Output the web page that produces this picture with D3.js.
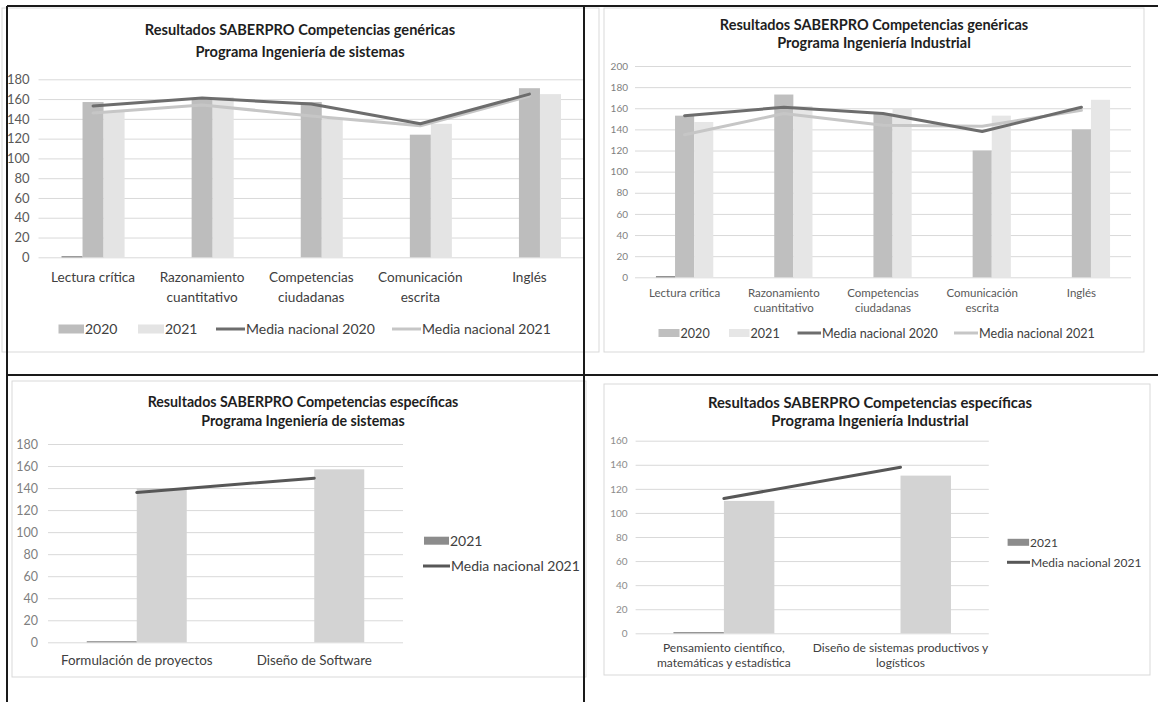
<!DOCTYPE html>
<html lang="es">
<head>
<meta charset="UTF-8">
<script src="https://d3js.org/d3.v7.min.js"></script>
<style>
  body { margin: 0; background: #fff; }
  svg { display: block; font-family: Lato, "Open Sans", sans-serif; }
</style>
</head>
<body>
<svg class="chart"></svg>
<script>

// ---- data ----
const catGen = ["Lectura crítica", "Razonamiento\ncuantitativo", "Competencias\nciudadanas", "Comunicación\nescrita", "Inglés"];
const ticksGenSis = [0, 20, 40, 60, 80, 100, 120, 140, 160, 180];
const ticksGenInd = [0, 20, 40, 60, 80, 100, 120, 140, 160, 180, 200];

const sisBase = [1, 0, 0, 0, 0];
const sis2020 = [157, 160, 157, 124, 171];
const sis2021 = [147, 162, 139, 135, 165];
const sisMedia2020 = [153, 161, 155, 135, 165];
const sisMedia2021 = [146, 154, 143, 133, 163];

const indBase = [1, 0, 0, 0, 0];
const ind2020 = [153, 173, 155, 120, 140];
const ind2021 = [147, 162, 160, 153, 168];
const indMedia2020 = [153, 161, 155, 138, 161];
const indMedia2021 = [135, 155, 144, 143, 158];

const catEspSis = ["Formulación de proyectos", "Diseño de Software"];
const ticksEspSis = [0, 20, 40, 60, 80, 100, 120, 140, 160, 180];
const espSis2021 = [1, 0];
const espSisBar = [140, 157];
const espSisMedia2021 = [136, 149];

const catEspInd = ["Pensamiento científico,\nmatemáticas y estadística", "Diseño de sistemas productivos y\nlogísticos"];
const ticksEspInd = [0, 20, 40, 60, 80, 100, 120, 140, 160];
const espInd2021 = [1, 0];
const espIndBar = [110, 131];
const espIndMedia2021 = [112, 138];

const titleGenSis = ["Resultados SABERPRO Competencias genéricas", "Programa Ingeniería de sistemas"];
const titleGenInd = ["Resultados SABERPRO Competencias genéricas", "Programa  Ingeniería Industrial"];
const titleEspSis = ["Resultados SABERPRO Competencias específicas", "Programa Ingeniería de sistemas"];
const titleEspInd = ["Resultados SABERPRO Competencias específicas", "Programa Ingeniería Industrial"];

const legendGen = ["2020", "2021", "Media nacional 2020", "Media nacional 2021"];
const legendEsp = ["2021", "Media nacional 2021"];

// ---- drawing ----
let svg = d3.select(".chart")
    .attr("width", 1158)
    .attr("height", 702);

function drawChart(c) {
  let g = svg.append("g");

  g.append("rect")
      .attr("x", c.frame[0]).attr("y", c.frame[1])
      .attr("width", c.frame[2]).attr("height", c.frame[3])
      .attr("fill", "#fff").attr("stroke", "#d9d9d9");

  c.title.forEach((t, i) => {
    g.append("text")
        .attr("x", c.titleX).attr("y", c.titleY + i * c.titleLH)
        .attr("text-anchor", "middle")
        .style("font-weight", "bold").style("font-size", c.titleSize + "px")
        .attr("fill", "#1e1e1e")
        .text(t);
  });

  let x = d3.scaleBand().domain(c.cats).range([c.left, c.right]);
  let slot = d3.scaleBand().domain(c.bars.map(b => b.key))
      .range([0, x.bandwidth()]).paddingOuter(c.gap / 2);
  let y = d3.scaleLinear().domain([0, c.ticks[c.ticks.length - 1]]).range([c.bottom, c.top]);

  // gridlines and tick labels
  let yAxis = g.append("g")
      .attr("transform", `translate(${c.left},0)`)
      .call(d3.axisLeft(y).tickValues(c.ticks).tickSize(-(c.right - c.left)).tickPadding(c.tickPad));
  yAxis.attr("font-family", null).attr("font-size", null);
  yAxis.select(".domain").remove();
  yAxis.selectAll("line").attr("stroke", "#d9d9d9");
  yAxis.selectAll("text").attr("fill", c.tickColor).style("font-size", c.tickSize + "px");

  // bars
  c.bars.forEach(b => {
    g.append("g").selectAll("rect")
      .data(b.values)
      .join("rect")
        .attr("x", (d, i) => x(c.cats[i]) + slot(b.key))
        .attr("y", d => y(d))
        .attr("width", slot.bandwidth())
        .attr("height", d => y(0) - y(d))
        .attr("fill", b.color);
  });

  // lines
  let line = d3.line()
      .x((d, i) => x(c.cats[i]) + x.bandwidth() / 2)
      .y(d => y(d));
  c.lines.forEach(l => {
    g.append("path").datum(l.values)
        .attr("d", line)
        .attr("fill", "none")
        .attr("stroke", l.color)
        .attr("stroke-width", l.width)
        .attr("stroke-linecap", "round")
        .attr("stroke-linejoin", "round");
  });

  // category labels
  c.cats.forEach(cat => {
    let t = g.append("text")
        .attr("text-anchor", "middle")
        .attr("fill", c.catColor)
        .style("font-size", c.catSize + "px");
    cat.split("\n").forEach((ln, j) => {
      t.append("tspan")
          .attr("x", x(cat) + x.bandwidth() / 2)
          .attr("y", c.catY + j * c.catLH)
          .text(ln);
    });
  });

  // legend
  c.legend.forEach(it => {
    if (it.kind == "rect") {
      g.append("rect")
          .attr("x", it.x).attr("y", it.y - it.h / 2)
          .attr("width", it.w).attr("height", it.h)
          .attr("fill", it.color);
    } else {
      g.append("line")
          .attr("x1", it.x).attr("x2", it.x + it.w)
          .attr("y1", it.y).attr("y2", it.y)
          .attr("stroke", it.color).attr("stroke-width", 3);
    }
    g.append("text")
        .attr("x", it.x + it.w + 1)
        .attr("y", it.y + c.legendSize * 0.36)
        .attr("fill", c.legendColor)
        .style("font-size", c.legendSize + "px")
        .text(it.label);
  });
}

// top left
drawChart({
  frame: [2, 8, 597, 344],
  title: titleGenSis, titleX: 300, titleY: 35, titleLH: 22, titleSize: 14.6,
  cats: catGen, left: 38.5, right: 584, top: 79.3, bottom: 257.3,
  ticks: ticksGenSis, tickPad: 9, tickSize: 13, tickColor: "#595959",
  gap: 2.19,
  bars: [
    {key: "base", values: sisBase, color: "#6f6f6f"},
    {key: "2020", values: sis2020, color: "#bdbdbd"},
    {key: "2021", values: sis2021, color: "#e4e4e4"}
  ],
  lines: [
    {values: sisMedia2021, color: "#c6c6c6", width: 3},
    {values: sisMedia2020, color: "#6d6d6d", width: 3}
  ],
  catY: 282, catLH: 20, catSize: 13.6, catColor: "#404040",
  legendSize: 14, legendColor: "#404040",
  legend: [
    {label: legendGen[0], kind: "rect", color: "#bdbdbd", x: 58.5, y: 329, w: 25.5, h: 9},
    {label: legendGen[1], kind: "rect", color: "#e4e4e4", x: 138, y: 329, w: 26, h: 9},
    {label: legendGen[2], kind: "line", color: "#6d6d6d", x: 216, y: 329, w: 29},
    {label: legendGen[3], kind: "line", color: "#c6c6c6", x: 392, y: 329, w: 29}
  ]
});

// top right
drawChart({
  frame: [604, 8, 540, 344],
  title: titleGenInd, titleX: 874, titleY: 30, titleLH: 18, titleSize: 14.5,
  cats: catGen, left: 635, right: 1131, top: 66, bottom: 277.3,
  ticks: ticksGenInd, tickPad: 7, tickSize: 10, tickColor: "#7f7f7f",
  gap: 2.19,
  bars: [
    {key: "base", values: indBase, color: "#6f6f6f"},
    {key: "2020", values: ind2020, color: "#bfbfbf"},
    {key: "2021", values: ind2021, color: "#e6e6e6"}
  ],
  lines: [
    {values: indMedia2021, color: "#c6c6c6", width: 3},
    {values: indMedia2020, color: "#6d6d6d", width: 3}
  ],
  catY: 297, catLH: 15, catSize: 11.5, catColor: "#595959",
  legendSize: 12.6, legendColor: "#404040",
  legend: [
    {label: legendGen[0], kind: "rect", color: "#bfbfbf", x: 658.5, y: 333, w: 21, h: 8},
    {label: legendGen[1], kind: "rect", color: "#e6e6e6", x: 729, y: 333, w: 20.5, h: 8},
    {label: legendGen[2], kind: "line", color: "#6d6d6d", x: 797.5, y: 333, w: 23.5},
    {label: legendGen[3], kind: "line", color: "#c6c6c6", x: 954, y: 333, w: 24}
  ]
});

// bottom left
drawChart({
  frame: [12, 381, 574, 296],
  title: titleEspSis, titleX: 303, titleY: 407, titleLH: 19, titleSize: 14.2,
  cats: catEspSis, left: 48, right: 403, top: 444, bottom: 642.3,
  ticks: ticksEspSis, tickPad: 10, tickSize: 12.5, tickColor: "#7f7f7f",
  gap: 1.55,
  bars: [
    {key: "2021", values: espSis2021, color: "#8c8c8c"},
    {key: "bar", values: espSisBar, color: "#d3d3d3"}
  ],
  lines: [
    {values: espSisMedia2021, color: "#575757", width: 3}
  ],
  catY: 665, catLH: 18, catSize: 13.4, catColor: "#404040",
  legendSize: 14, legendColor: "#404040",
  legend: [
    {label: legendEsp[0], kind: "rect", color: "#8c8c8c", x: 424, y: 540.7, w: 25, h: 8},
    {label: legendEsp[1], kind: "line", color: "#575757", x: 423, y: 566, w: 27}
  ]
});

// bottom right
drawChart({
  frame: [604, 384, 546, 291],
  title: titleEspInd, titleX: 870, titleY: 408, titleLH: 18, titleSize: 14.8,
  cats: catEspInd, left: 635.6, right: 988.8, top: 440.7, bottom: 633.3,
  ticks: ticksEspInd, tickPad: 8, tickSize: 10, tickColor: "#8c8c8c",
  gap: 1.5,
  bars: [
    {key: "2021", values: espInd2021, color: "#8c8c8c"},
    {key: "bar", values: espIndBar, color: "#d3d3d3"}
  ],
  lines: [
    {values: espIndMedia2021, color: "#575757", width: 3}
  ],
  catY: 652, catLH: 14.5, catSize: 12, catColor: "#404040",
  legendSize: 12, legendColor: "#404040",
  legend: [
    {label: legendEsp[0], kind: "rect", color: "#8c8c8c", x: 1007.6, y: 542.3, w: 21.5, h: 7},
    {label: legendEsp[1], kind: "line", color: "#575757", x: 1007, y: 562.3, w: 23}
  ]
});

// table borders
let borders = [
  [7, 6, 1158, 6],
  [7, 6, 7, 702],
  [584, 6, 584, 702],
  [7, 375, 1158, 375]
];
svg.append("g").selectAll("line")
  .data(borders)
  .join("line")
    .attr("x1", d => d[0]).attr("y1", d => d[1])
    .attr("x2", d => d[2]).attr("y2", d => d[3])
    .attr("stroke", "#1a1a1a")
    .attr("stroke-width", 2);

</script>
</body>
</html>
